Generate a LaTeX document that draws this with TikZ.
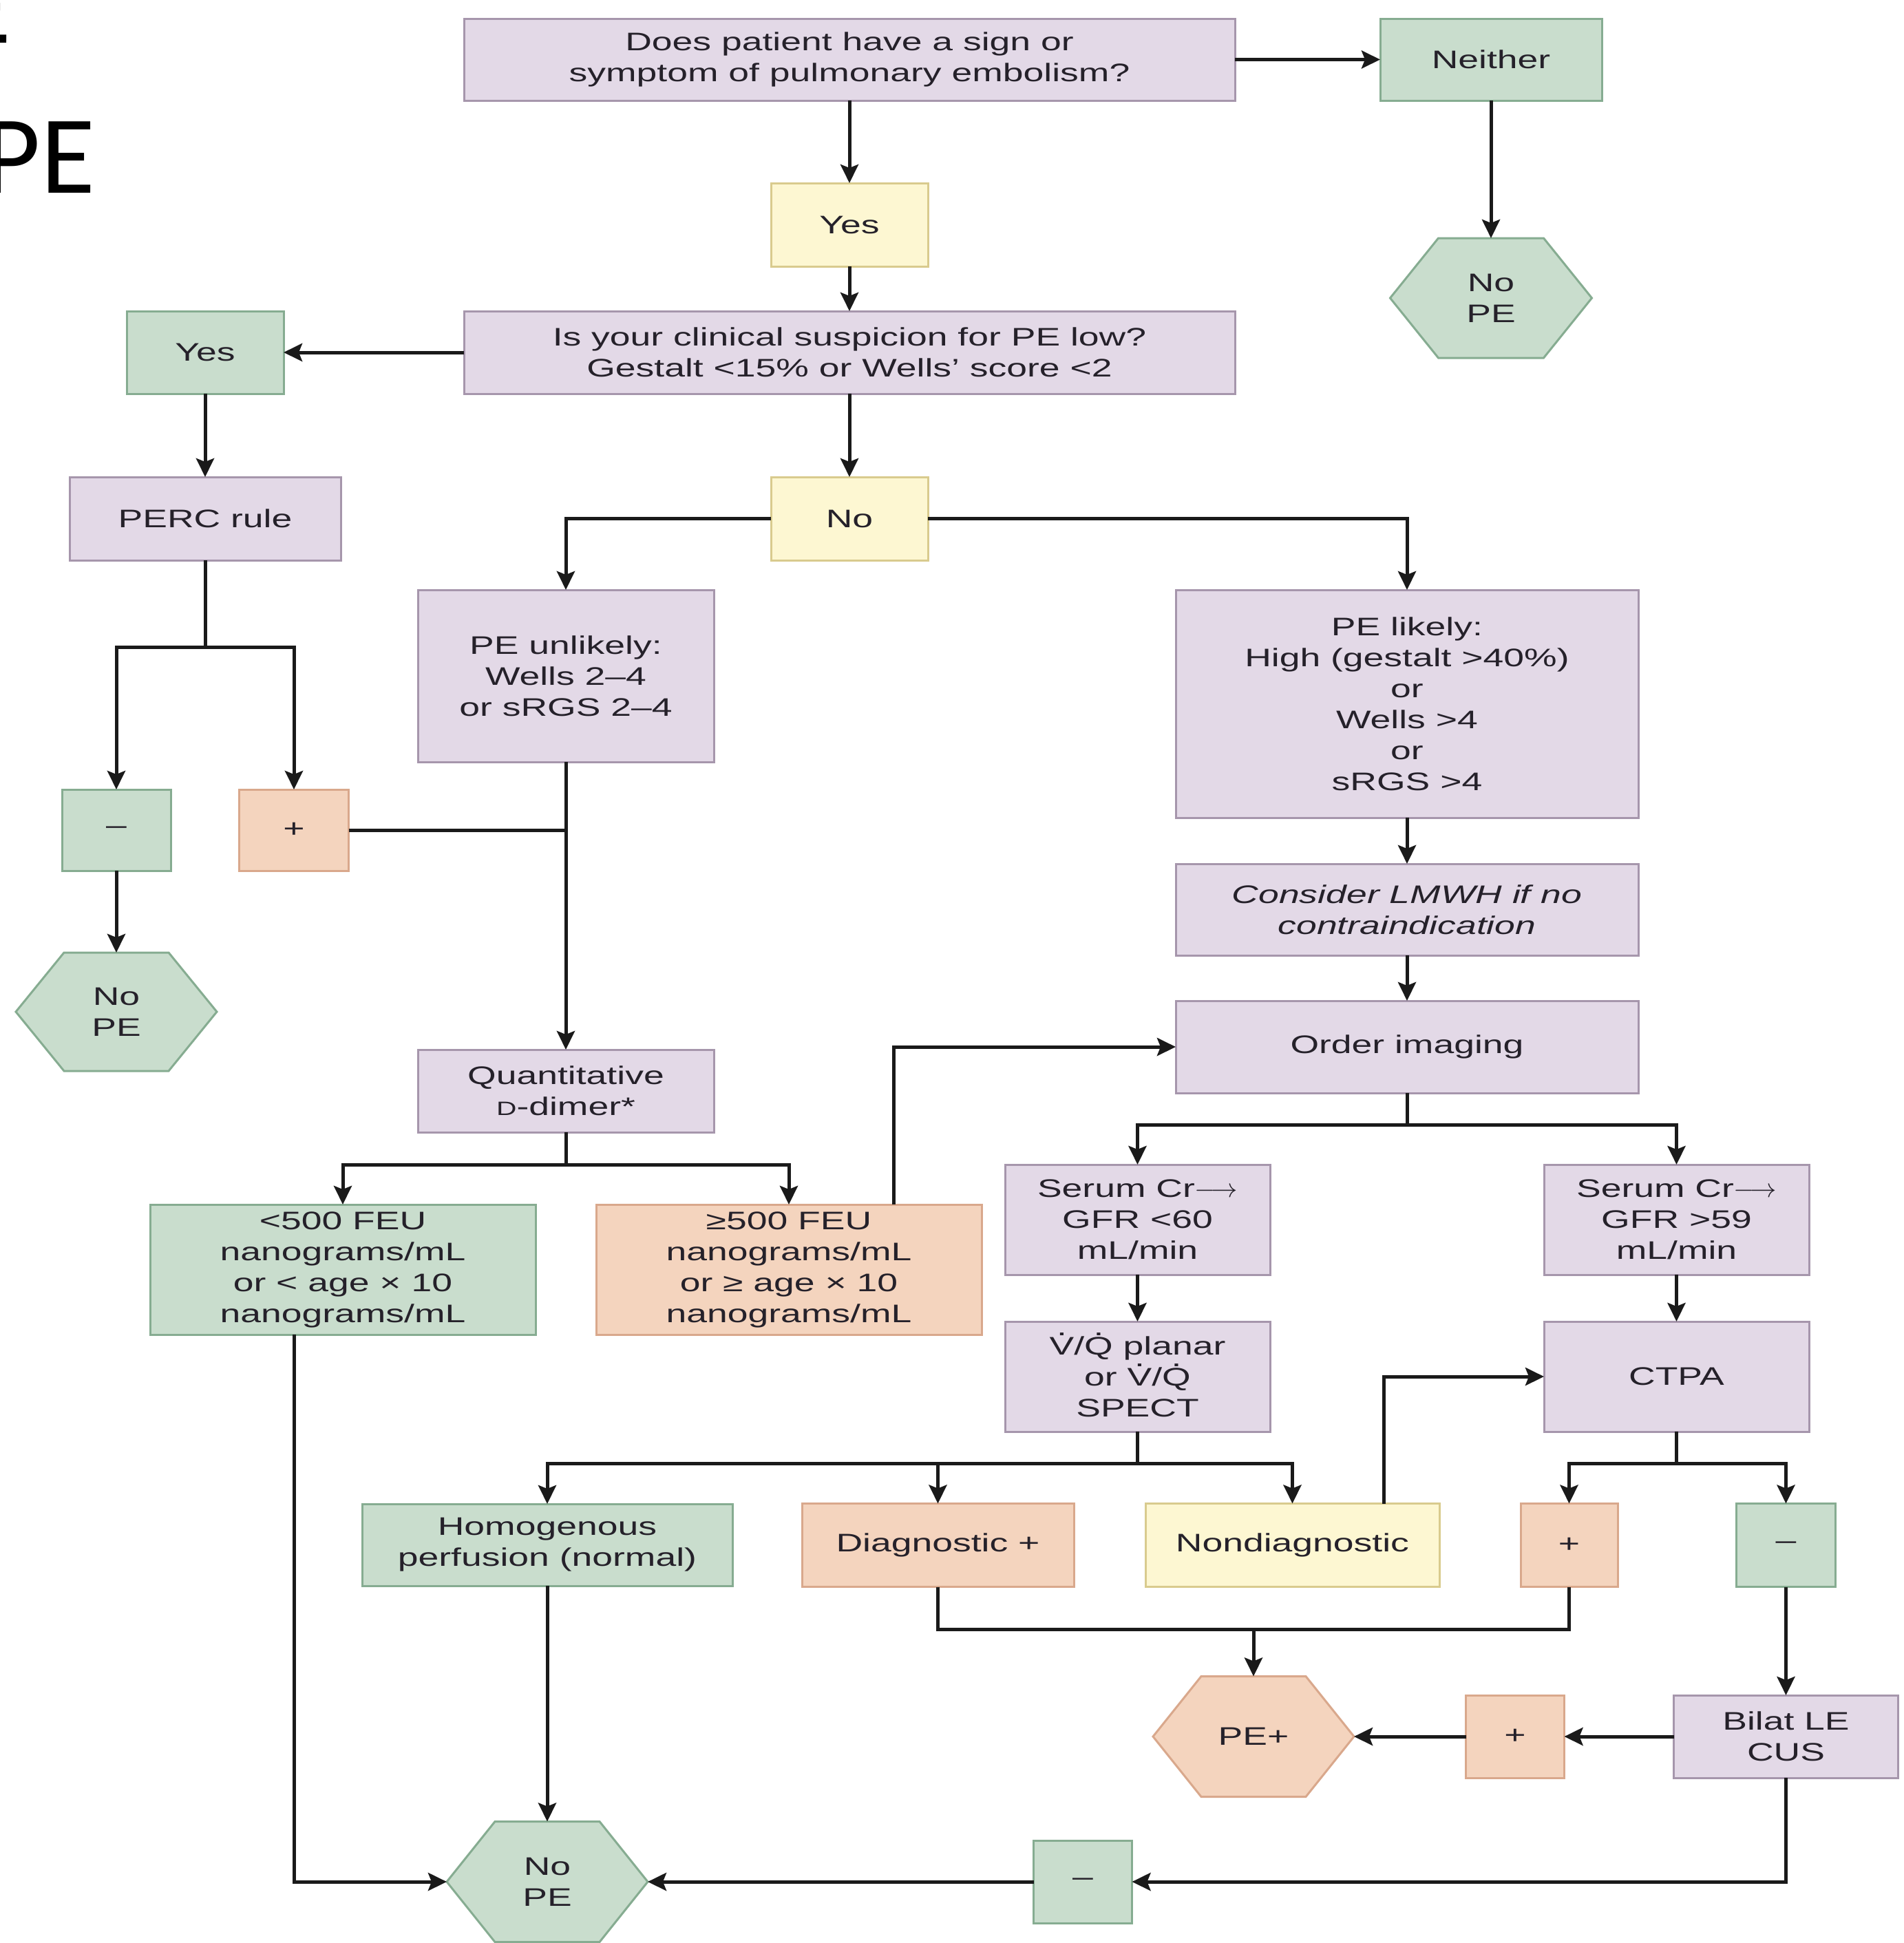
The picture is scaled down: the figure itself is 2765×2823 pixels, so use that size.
\documentclass[tikz,border=0pt]{standalone}
\usepackage{fontspec}
\setmainfont{Liberation Sans}[FakeStretch=1.45]
\newfontfamily\titlefont{Carlito}
\usetikzlibrary{arrows.meta,calc,backgrounds}
\definecolor{pfill}{HTML}{E3D9E7}
\definecolor{pdraw}{HTML}{A696AC}
\definecolor{gfill}{HTML}{C9DDCD}
\definecolor{gdraw}{HTML}{86AC91}
\definecolor{yfill}{HTML}{FDF7D2}
\definecolor{ydraw}{HTML}{D9CB8E}
\definecolor{ofill}{HTML}{F4D4BE}
\definecolor{odraw}{HTML}{D9A88C}
\definecolor{txt}{HTML}{25212A}
\definecolor{lncol}{HTML}{1A1A1A}
\newcommand\nfont{\fontsize{10.5}{12.8}\selectfont}
\newcommand\dotac[1]{\leavevmode\hbox{\ooalign{#1\cr\hidewidth\raisebox{0.74em}{.}\hidewidth\cr}}}
\newcommand\hexdraw[3]{\draw[fill=#2,draw=#3,line width=0.3mm] (#1.west) -- ($(#1.north west)+(70,0)$) -- ($(#1.north east)+(-70,0)$) -- (#1.east) -- ($(#1.south east)+(-70,0)$) -- ($(#1.south west)+(70,0)$) -- cycle;}
\tikzset{
  base/.style={inner sep=0pt, outer sep=0pt, align=center, font=\nfont, text=txt, line width=0.3mm},
  sz/.style 2 args={minimum width=#1*0.1mm, minimum height=#2*0.1mm},
  pbox/.style={base, draw=pdraw, fill=pfill},
  gbox/.style={base, draw=gdraw, fill=gfill},
  ybox/.style={base, draw=ydraw, fill=yfill},
  obox/.style={base, draw=odraw, fill=ofill},
  hexn/.style={base},
  conn/.style={line width=0.5mm, draw=lncol},
  arr/.style={conn, -{Stealth[length=2.7mm,width=2.6mm,inset=0.5mm]}},
}
\begin{document}
\begin{tikzpicture}[x=0.1mm,y=-0.1mm]
\path[use as bounding box] (0,0) rectangle (2765,2823);
\clip (0,0) rectangle (2765,2823);

% partial slide title
\node[font=\titlefont\fontsize{46}{46}\selectfont, anchor=base east, inner sep=0pt] (ttlA) at (17,62) {E};
\node[font=\titlefont\fontsize{46}{46}\selectfont, anchor=base east, inner sep=0pt] (ttlB) at (139,280) {PE};

% nodes
\node[pbox,sz={1120}{119}] (q1) at (1234,86.5) {Does patient have a sign or\\symptom of pulmonary embolism?};
\node[gbox,sz={322}{119}] (neither) at (2166,86.5) {Neither};
\node[ybox,sz={228}{121}] (yes1) at (1234,326.5) {Yes};
\node[hexn,sz={293}{174}] (nope1) at (2166,433) {No\\PE};
\node[pbox,sz={1120}{120}] (q2) at (1234,512) {Is your clinical suspicion for PE low?\\Gestalt <15\% or Wells’ score <2};
\node[gbox,sz={228}{120}] (yes2) at (298,512) {Yes};
\node[pbox,sz={394}{121}] (perc) at (298,753.5) {PERC rule};
\node[ybox,sz={228}{121}] (no1) at (1234,753.5) {No};
\node[pbox,sz={430}{250}] (unlikely) at (822,982) {PE unlikely:\\Wells 2–4\\or sRGS 2–4};
\node[pbox,sz={672}{331}] (likely) at (2044,1022.5) {PE likely:\\High (gestalt >40\%)\\or\\Wells >4\\or\\sRGS >4};
\node[pbox,sz={672}{133},font={\nfont\itshape}] (lmwh) at (2044,1321.5) {Consider LMWH if no\\contraindication};
\node[pbox,sz={672}{134}] (order) at (2044,1521) {Order imaging};
\node[gbox,sz={158}{118}] (minus1) at (169,1206) {–};
\node[obox,sz={159}{118}] (plus1) at (427,1206) {+};
\node[hexn,sz={292}{172}] (nope2) at (169,1470) {No\\PE};
\node[pbox,sz={430}{120}] (ddimer) at (822,1585) {Quantitative\\{\fontsize{8}{8}\selectfont D}-dimer*};
\node[gbox,sz={560}{189}] (lt500) at (498,1844.5) {<500 FEU\\nanograms/mL\\or < age × 10\\nanograms/mL};
\node[obox,sz={560}{189}] (ge500) at (1146,1844.5) {≥500 FEU\\nanograms/mL\\or ≥ age × 10\\nanograms/mL};
\node[pbox,sz={385}{160}] (cr60) at (1652.5,1772) {Serum Cr$\longrightarrow$\\GFR <60\\mL/min};
\node[pbox,sz={385}{160}] (cr59) at (2435.5,1772) {Serum Cr$\longrightarrow$\\GFR >59\\mL/min};
\node[pbox,sz={385}{160}] (vq) at (1652.5,2000) {\dotac{V}/\dotac{Q} planar\\or \dotac{V}/\dotac{Q}\\SPECT};
\node[pbox,sz={385}{160}] (ctpa) at (2435.5,2000) {CTPA};
\node[gbox,sz={538}{119}] (homog) at (795,2244.5) {Homogenous\\perfusion (normal)};
\node[obox,sz={395}{121}] (diag) at (1362.5,2245) {Diagnostic +};
\node[ybox,sz={427}{121}] (nondiag) at (1877.5,2245) {Nondiagnostic};
\node[obox,sz={141}{121}] (plus2) at (2279.5,2245) {+};
\node[gbox,sz={144}{121}] (minus2) at (2594.5,2245) {–};
\node[hexn,sz={292}{175}] (peplus) at (1821,2523) {PE+};
\node[obox,sz={143}{120}] (plus3) at (2201,2523) {+};
\node[pbox,sz={326}{120}] (bilat) at (2594.5,2523) {Bilat LE\\CUS};
\node[gbox,sz={143}{120}] (minus3) at (1573,2734) {–};
\node[hexn,sz={292}{175}] (nope3) at (795,2734) {No\\PE};

\begin{scope}[on background layer]
\hexdraw{nope1}{gfill}{gdraw}
\hexdraw{nope2}{gfill}{gdraw}
\hexdraw{nope3}{gfill}{gdraw}
\hexdraw{peplus}{ofill}{odraw}
\end{scope}

% connectors
\draw[arr] (q1.east) -- (neither.west);
\draw[arr] (neither.south) -- (nope1.north);
\draw[arr] (q1.south) -- (yes1.north);
\draw[arr] (yes1.south) -- (q2.north);
\draw[arr] (q2.west) -- (yes2.east);
\draw[arr] (yes2.south) -- (perc.north);
\draw[arr] (q2.south) -- (no1.north);
\draw[arr] (no1.west) -| (unlikely.north);
\draw[arr] (no1.east) -| (likely.north);
\coordinate (percj) at (298,940);
\draw[conn] (perc.south) -- (percj);
\draw[arr] (percj) -| (minus1.north);
\draw[arr] (percj) -| (plus1.north);
\draw[conn] (plus1.east) -- (plus1.east -| unlikely.south);
\draw[arr] (unlikely.south) -- (ddimer.north);
\draw[arr] (minus1.south) -- (nope2.north);
\draw[arr] (likely.south) -- (lmwh.north);
\draw[arr] (lmwh.south) -- (order.north);
\coordinate (dj) at (822,1692);
\draw[conn] (ddimer.south) -- (dj);
\draw[arr] (dj) -| (lt500.north);
\draw[arr] (dj) -| (ge500.north);
\draw[arr] ([xshift=15.2mm]ge500.north) |- (order.west);
\coordinate (oj) at (2044,1634);
\draw[conn] (order.south) -- (oj);
\draw[arr] (oj) -| (cr60.north);
\draw[arr] (oj) -| (cr59.north);
\draw[arr] (cr60.south) -- (vq.north);
\draw[arr] (cr59.south) -- (ctpa.north);
\coordinate (vj) at (1652.5,2126);
\draw[conn] (vq.south) -- (vj);
\draw[arr] (vj) -| (homog.north);
\draw[arr] (vj) -| (diag.north);
\draw[arr] (vj) -| (nondiag.north);
\draw[arr] ([xshift=13.25mm]nondiag.north) |- (ctpa.west);
\coordinate (cj) at (2435.5,2126);
\draw[conn] (ctpa.south) -- (cj);
\draw[arr] (cj) -| (plus2.north);
\draw[arr] (cj) -| (minus2.north);
\coordinate (pj) at (1821,2367);
\draw[conn] (diag.south) |- (pj) -| (plus2.south);
\draw[arr] (pj) -- (peplus.north);
\draw[arr] (minus2.south) -- (bilat.north);
\draw[arr] (bilat.west) -- (plus3.east);
\draw[arr] (plus3.west) -- (peplus.east);
\draw[arr] (bilat.south) |- (minus3.east);
\draw[arr] (minus3.west) -- (nope3.east);
\draw[arr] (homog.south) -- (nope3.north);
\draw[arr] ([xshift=-7.1mm]lt500.south) |- (nope3.west);
\end{tikzpicture}
\end{document}
